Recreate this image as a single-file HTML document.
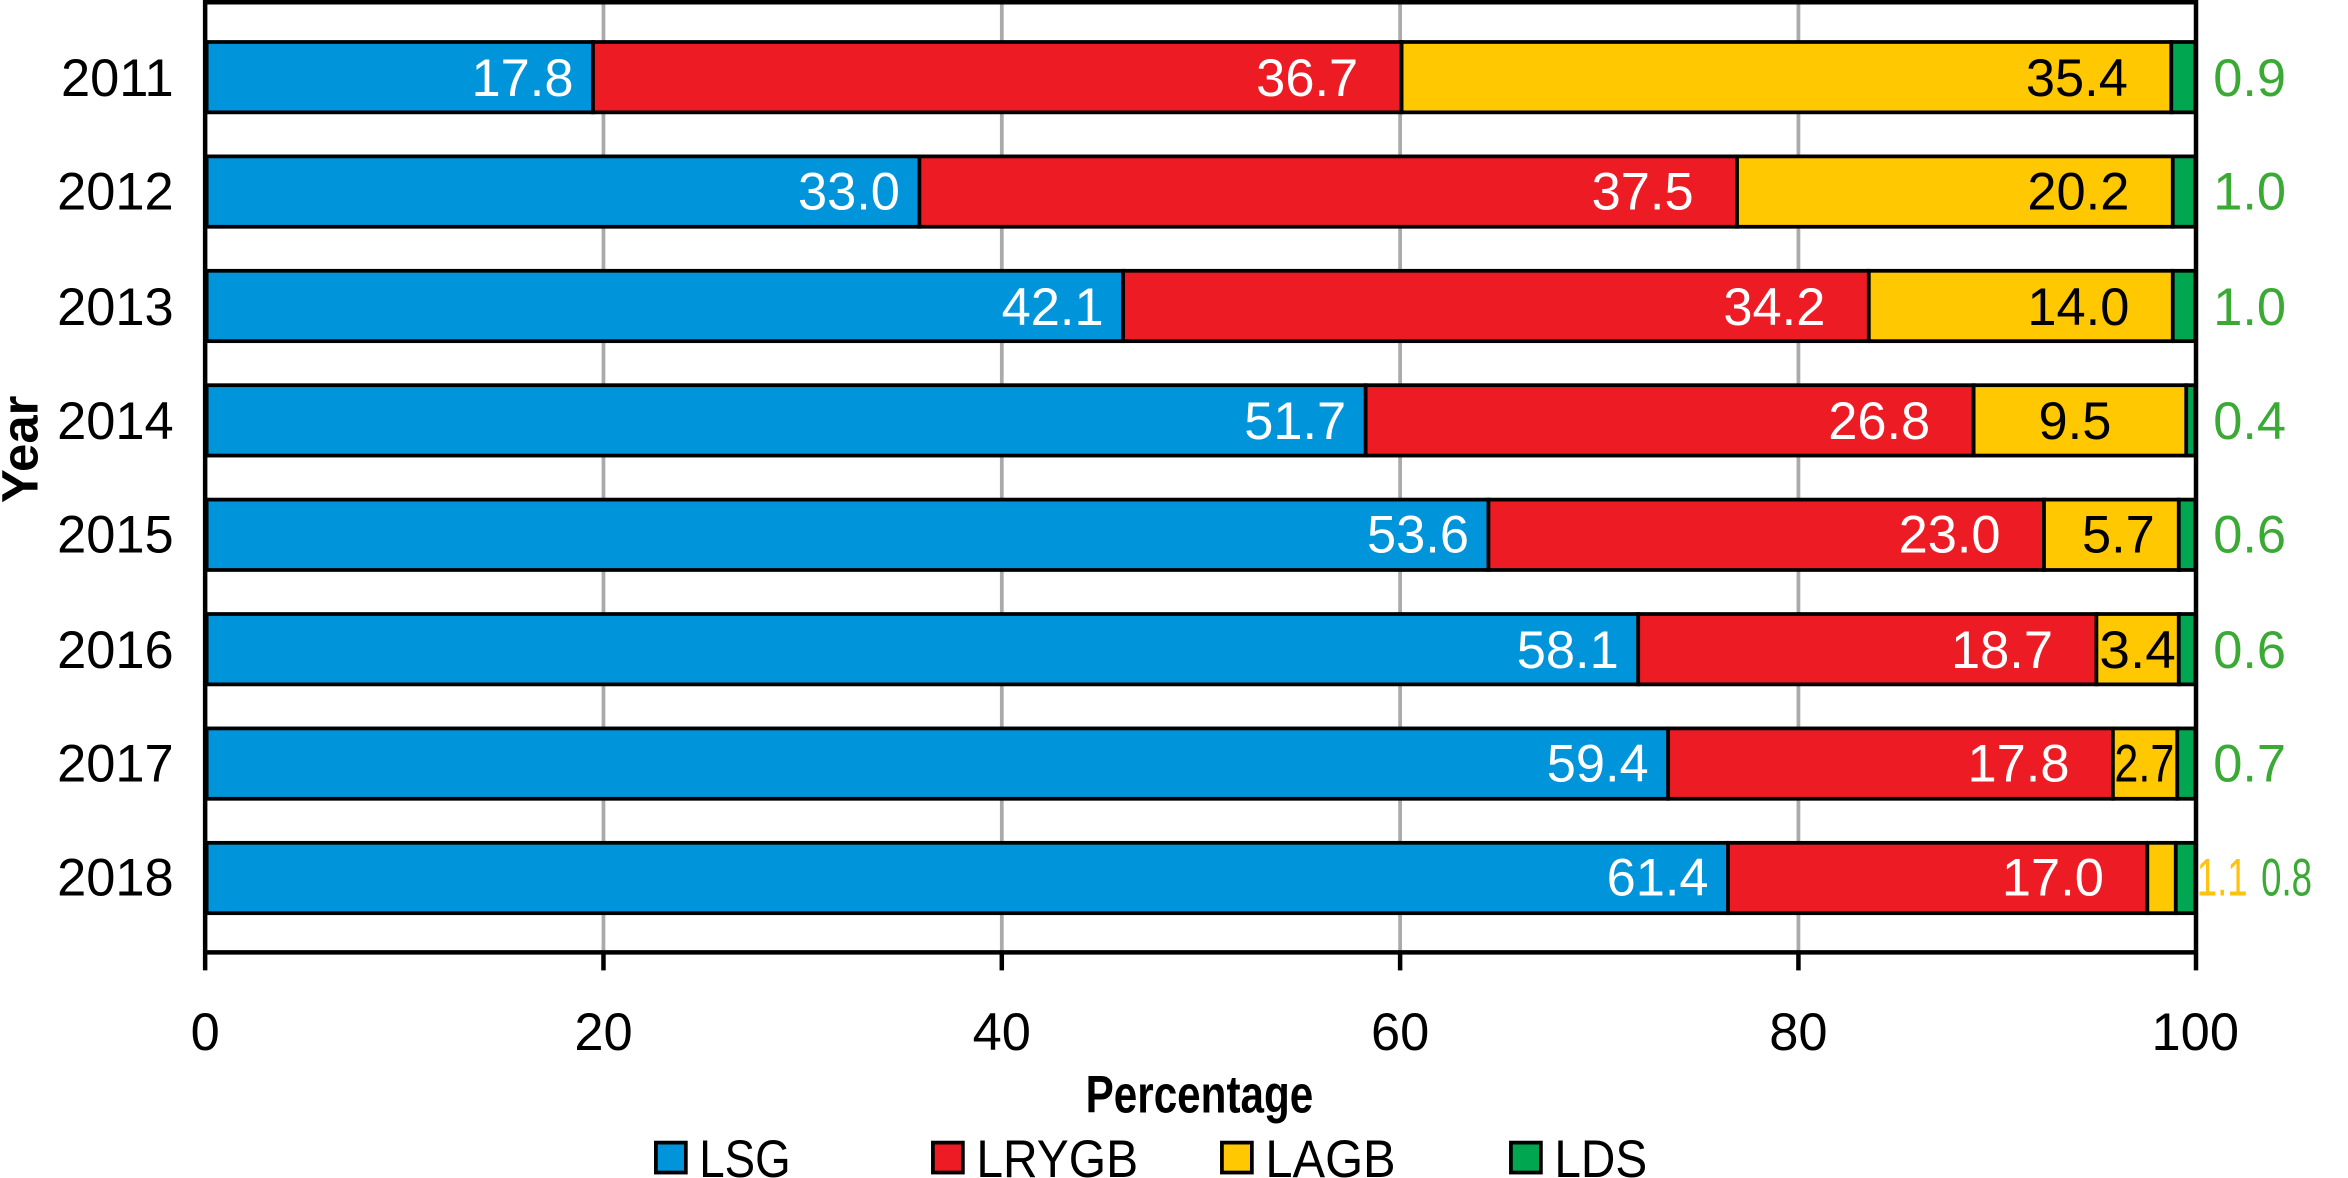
<!DOCTYPE html>
<html><head><meta charset="utf-8"><style>
html,body{margin:0;padding:0;background:#fff;}
svg{display:block;}
text{font-family:"Liberation Sans",sans-serif;}
</style></head><body>
<svg width="2348" height="1178" viewBox="0 0 1568 786.6" xmlns="http://www.w3.org/2000/svg">
<g stroke="#aaa" stroke-width="2.5">
<line x1="403" y1="0" x2="403" y2="636"/>
<line x1="669" y1="0" x2="669" y2="636"/>
<line x1="935" y1="0" x2="935" y2="636"/>
<line x1="1201" y1="0" x2="1201" y2="636"/>
</g>
<g stroke="#000" stroke-width="2.5">
<rect x="138" y="28" width="258" height="47" fill="#0095da"/>
<rect x="396" y="28" width="540" height="47" fill="#ed1c24"/>
<rect x="936" y="28" width="514" height="47" fill="#ffc800"/>
<rect x="1450" y="28" width="16" height="47" fill="#00a650"/>
<rect x="138" y="104.4" width="476" height="47" fill="#0095da"/>
<rect x="614" y="104.4" width="546" height="47" fill="#ed1c24"/>
<rect x="1160" y="104.4" width="291" height="47" fill="#ffc800"/>
<rect x="1451" y="104.4" width="15" height="47" fill="#00a650"/>
<rect x="138" y="180.8" width="612" height="47" fill="#0095da"/>
<rect x="750" y="180.8" width="498" height="47" fill="#ed1c24"/>
<rect x="1248" y="180.8" width="203" height="47" fill="#ffc800"/>
<rect x="1451" y="180.8" width="15" height="47" fill="#00a650"/>
<rect x="138" y="257.2" width="774" height="47" fill="#0095da"/>
<rect x="912" y="257.2" width="406" height="47" fill="#ed1c24"/>
<rect x="1318" y="257.2" width="142" height="47" fill="#ffc800"/>
<rect x="1460" y="257.2" width="6" height="47" fill="#00a650"/>
<rect x="138" y="333.6" width="856" height="47" fill="#0095da"/>
<rect x="994" y="333.6" width="371" height="47" fill="#ed1c24"/>
<rect x="1365" y="333.6" width="90" height="47" fill="#ffc800"/>
<rect x="1455" y="333.6" width="11" height="47" fill="#00a650"/>
<rect x="138" y="410" width="956" height="47" fill="#0095da"/>
<rect x="1094" y="410" width="306" height="47" fill="#ed1c24"/>
<rect x="1400" y="410" width="55" height="47" fill="#ffc800"/>
<rect x="1455" y="410" width="11" height="47" fill="#00a650"/>
<rect x="138" y="486.4" width="976" height="47" fill="#0095da"/>
<rect x="1114" y="486.4" width="297" height="47" fill="#ed1c24"/>
<rect x="1411" y="486.4" width="43" height="47" fill="#ffc800"/>
<rect x="1454" y="486.4" width="12" height="47" fill="#00a650"/>
<rect x="138" y="562.8" width="1016" height="47" fill="#0095da"/>
<rect x="1154" y="562.8" width="280" height="47" fill="#ed1c24"/>
<rect x="1434" y="562.8" width="19" height="47" fill="#ffc800"/>
<rect x="1453" y="562.8" width="13" height="47" fill="#00a650"/>
</g>
<g stroke="#000" stroke-width="3" fill="none">
<line x1="137" y1="1.5" x2="1467" y2="1.5"/>
<line x1="137" y1="0" x2="137" y2="648"/>
<line x1="1466.5" y1="0" x2="1466.5" y2="648"/>
<line x1="137" y1="636" x2="1467" y2="636"/>
<line x1="403" y1="636" x2="403" y2="648"/>
<line x1="669" y1="636" x2="669" y2="648"/>
<line x1="935" y1="636" x2="935" y2="648"/>
<line x1="1201" y1="636" x2="1201" y2="648"/>
</g>
<g font-size="35" fill="#fff" text-anchor="end">
<text x="383" y="64">17.8</text><text x="907" y="64">36.7</text>
<text x="601" y="140">33.0</text><text x="1131" y="140">37.5</text>
<text x="737" y="217">42.1</text><text x="1219" y="217">34.2</text>
<text x="899" y="293">51.7</text><text x="1289" y="293">26.8</text>
<text x="981" y="369">53.6</text><text x="1336" y="369">23.0</text>
<text x="1081" y="446">58.1</text><text x="1371" y="446">18.7</text>
<text x="1101" y="522">59.4</text><text x="1382" y="522">17.8</text>
<text x="1141" y="598">61.4</text><text x="1405" y="598">17.0</text>
</g>
<g font-size="35" fill="#000" text-anchor="end">
<text x="1421" y="64">35.4</text>
<text x="1422" y="140">20.2</text>
<text x="1422" y="217">14.0</text>
<text x="1410" y="293">9.5</text>
<text x="1439" y="369">5.7</text>
</g>
<g font-size="35" fill="#000">
<text x="1402" y="446" textLength="51" lengthAdjust="spacingAndGlyphs">3.4</text>
<text x="1412" y="522" textLength="40" lengthAdjust="spacingAndGlyphs">2.7</text>
</g>
<g font-size="35" fill="#3aaa35">
<text x="1478" y="64">0.9</text>
<text x="1478" y="140">1.0</text>
<text x="1478" y="217">1.0</text>
<text x="1478" y="293">0.4</text>
<text x="1478" y="369">0.6</text>
<text x="1478" y="446">0.6</text>
<text x="1478" y="522">0.7</text>
<text x="1510" y="598" textLength="34" lengthAdjust="spacingAndGlyphs">0.8</text>
</g>
<text x="1467" y="598" font-size="35" fill="#ffc20e" textLength="34" lengthAdjust="spacingAndGlyphs">1.1</text>
<g font-size="35" fill="#000" text-anchor="end">
<text x="116" y="64">2011</text>
<text x="116" y="140">2012</text>
<text x="116" y="217">2013</text>
<text x="116" y="293">2014</text>
<text x="116" y="369">2015</text>
<text x="116" y="446">2016</text>
<text x="116" y="522">2017</text>
<text x="116" y="598">2018</text>
</g>
<g font-size="35" fill="#000" text-anchor="middle">
<text x="137" y="701">0</text>
<text x="403" y="701">20</text>
<text x="669" y="701">40</text>
<text x="935" y="701">60</text>
<text x="1201" y="701">80</text>
<text x="1466" y="701">100</text>
</g>
<text x="725" y="743" font-size="35" font-weight="bold" textLength="152" lengthAdjust="spacingAndGlyphs">Percentage</text>
<text transform="translate(25,300) rotate(-90)" font-size="34" font-weight="bold" text-anchor="middle">Year</text>
<g stroke="#000" stroke-width="2.5">
<rect x="438" y="763" width="20" height="20" fill="#0095da"/>
<rect x="623" y="763" width="20" height="20" fill="#ed1c24"/>
<rect x="816" y="763" width="20" height="20" fill="#ffc800"/>
<rect x="1009" y="763" width="20" height="20" fill="#00a650"/>
</g>
<g font-size="35" fill="#000">
<text x="467" y="786" textLength="61" lengthAdjust="spacingAndGlyphs">LSG</text>
<text x="652" y="786" textLength="108" lengthAdjust="spacingAndGlyphs">LRYGB</text>
<text x="845" y="786" textLength="87" lengthAdjust="spacingAndGlyphs">LAGB</text>
<text x="1038" y="786" textLength="62" lengthAdjust="spacingAndGlyphs">LDS</text>
</g>
</svg>
</body></html>
